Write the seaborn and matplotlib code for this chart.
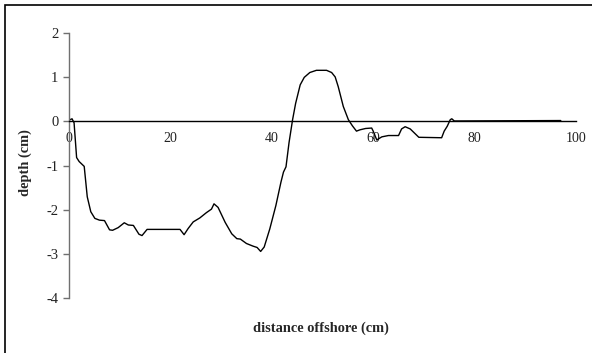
import matplotlib
matplotlib.use("Agg")
import matplotlib.pyplot as plt
import seaborn as sns
import pandas as pd
from matplotlib.patches import Rectangle

distance = [0.2, 0.6, 1.0, 1.5, 2.0, 3.0, 3.6, 4.3, 5.1, 6.0, 7.0, 8.0, 8.6, 9.7,
            10.9, 11.7, 12.7, 13.8, 14.4, 15.4, 21.9, 22.7, 23.5, 24.5, 25.8, 27.1,
            28.1, 28.6, 29.4, 30.8, 32.1, 33.1, 33.8, 35.0, 36.3, 37.1, 37.8, 38.5,
            39.6, 40.8, 41.8, 42.3, 42.8, 43.4, 44.1, 44.7, 45.6, 46.4, 47.5, 48.8,
            50.8, 51.8, 52.5, 53.1, 54.1, 55.1, 55.9, 56.7, 57.4, 58.5, 59.7, 60.0,
            60.7, 61.7, 63.0, 65.0, 65.6, 66.3, 67.3, 69.0, 73.5, 74.0, 74.6, 75.2,
            75.5, 76.0, 97.0]
depth = [0.04, 0.06, -0.03, -0.82, -0.91, -1.02, -1.71, -2.05, -2.2, -2.24, -2.25,
         -2.46, -2.47, -2.41, -2.3, -2.35, -2.36, -2.56, -2.59, -2.45, -2.45, -2.57,
         -2.43, -2.28, -2.19, -2.07, -1.99, -1.87, -1.95, -2.29, -2.55, -2.66, -2.67,
         -2.77, -2.83, -2.86, -2.95, -2.85, -2.44, -1.91, -1.38, -1.15, -1.03, -0.48,
         0.04, 0.41, 0.83, 1.0, 1.11, 1.16, 1.16, 1.11, 1.01, 0.79, 0.34, 0.04, -0.1,
         -0.22, -0.19, -0.16, -0.15, -0.22, -0.42, -0.35, -0.32, -0.32, -0.17, -0.12,
         -0.17, -0.36, -0.37, -0.22, -0.11, 0.04, 0.06, 0.01, 0.02]

x_ticks = [0, 20, 40, 60, 80, 100]
y_ticks = [-4, -3, -2, -1, 0, 1, 2]

df = pd.DataFrame({"distance": distance, "depth": depth})

sns.set_style("white")
plt.rcParams["font.family"] = ["Liberation Serif", "DejaVu Serif"]

fig = plt.figure(figsize=(5.92, 3.53), dpi=100)
ax = fig.add_axes([69 / 592, 1 - 297.7 / 353, (576 - 69) / 592, (297.7 - 33.3) / 353])

sns.lineplot(data=df, x="distance", y="depth", ax=ax, color="black",
             linewidth=1.0, estimator=None, sort=False)

ax.set_xlim(0, 100)
ax.set_ylim(-4, 2)
ax.set_xticks(x_ticks)
ax.set_yticks(y_ticks)
ax.set_xticklabels([str(t) for t in x_ticks], fontsize=10.5)
ax.set_yticklabels([str(t) for t in y_ticks], fontsize=10.5)

for s in ["top", "right"]:
    ax.spines[s].set_visible(False)
ax.spines["bottom"].set_position(("data", 0))
ax.spines["bottom"].set_color("black")
ax.spines["bottom"].set_linewidth(1.0)
ax.spines["left"].set_color("#707070")
ax.spines["left"].set_linewidth(1.0)

ax.tick_params(axis="x", length=0, pad=7.5, colors="black", labelcolor="#222222")
ax.tick_params(axis="y", direction="out", length=4, width=1.0, color="#707070",
               pad=3.5, labelcolor="#222222", left=True)

ax.set_xlabel("")
ax.set_ylabel("depth (cm)", fontsize=10.4, fontweight="bold")
ax.yaxis.set_label_coords(-0.073, 0.51)
fig.text(321 / 592, 1 - 328 / 353, "distance offshore (cm)", fontsize=10.4,
         fontweight="bold", ha="center", va="center")

fig.patches.append(Rectangle((5 / 592, -0.05), 1.1, 1 - 5 / 353 + 0.05,
                             transform=fig.transFigure, fill=False,
                             edgecolor="black", linewidth=1.2))

fig.savefig("out.png", dpi=100)
